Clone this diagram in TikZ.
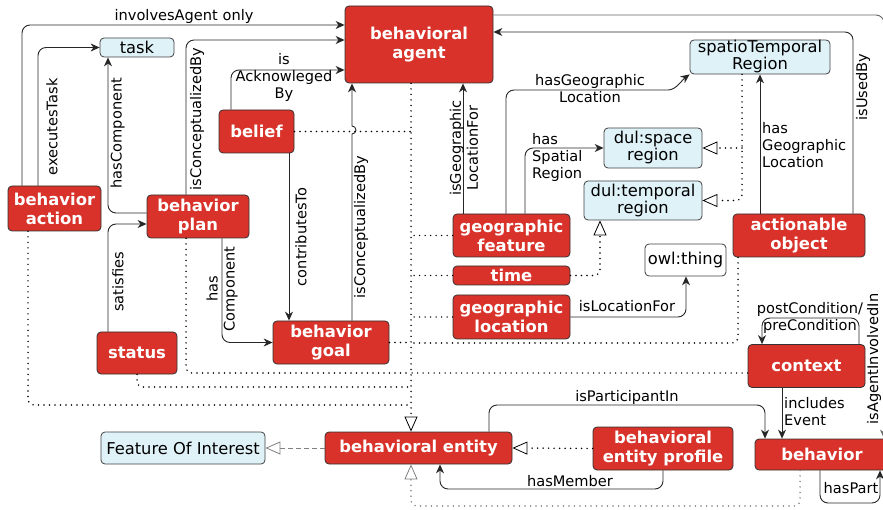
\documentclass[tikz,border=0pt]{standalone}
\usepackage{fontspec}
\setmainfont{DejaVu Sans}
\usepackage{tikz}
\usetikzlibrary{arrows.meta}
\definecolor{EntityRed}{HTML}{D8322A}
\definecolor{ConceptBlue}{HTML}{DFF2F8}
\tikzset{
  entitybox/.style={draw=black!80, line width=0.8pt, fill=EntityRed, text=white, rounded corners=4pt,
    inner sep=0pt, align=center, font=\bfseries\fontsize{16.4}{19}\selectfont},
  conceptbox/.style={draw=black!75, line width=0.8pt, fill=ConceptBlue, rounded corners=4pt,
    inner sep=0pt, align=center, font=\fontsize{16.3}{17}\selectfont},
  thingbox/.style={conceptbox, fill=white},
  lbl/.style={inner sep=1pt, align=center, font=\fontsize{14.6}{17}\selectfont},
  rel/.style={draw=black!85, line width=0.9pt, rounded corners=8pt, -{Stealth[length=9pt,width=8pt]}},
  isa/.style={draw=black, line width=1.7pt, dash pattern=on 0pt off 5.5pt, line cap=round, rounded corners=6pt,
    -{Triangle[length=15pt, width=13pt, line width=0.8pt, fill=white]}},
  isadots/.style={isa, -},
  foilink/.style={draw=gray, line width=0.9pt, dash pattern=on 5pt off 3pt,
    -{Triangle[length=15pt, width=13pt, line width=0.8pt, fill=white]}}
}
\begin{document}
\begin{tikzpicture}[x=1pt,y=-1pt]
  \useasboundingbox (0,0) rectangle (883,510);
  % classes
  \node[entitybox, minimum width=148, minimum height=77] (agent) at (419,44.5) {behavioral\\agent};
  \node[conceptbox, minimum width=74, minimum height=19] (task) at (137,47.5) {task};
  \node[entitybox, minimum width=75, minimum height=43] (belief) at (256.5,131.5) {belief};
  \node[entitybox, minimum width=93, minimum height=45] (action) at (54.5,208.5) {behavior\\action};
  \node[entitybox, minimum width=102, minimum height=43] (plan) at (198,216.5) {behavior\\plan};
  \node[entitybox, minimum width=80, minimum height=42] (status) at (137,353) {status};
  \node[entitybox, minimum width=116, minimum height=43] (goal) at (331,342.5) {behavior\\goal};
  \node[entitybox, minimum width=117, minimum height=43] (feature) at (511.5,235.5) {geographic\\feature};
  \node[entitybox, minimum width=117, minimum height=19] (time) at (511.5,275.5) {time};
  \node[entitybox, minimum width=117, minimum height=44] (location) at (511.5,317) {geographic\\location};
  \node[conceptbox, minimum width=140, minimum height=34] (spatio) at (760,57) {spatioTemporal\\Region};
  \node[conceptbox, minimum width=98, minimum height=40] (space) at (653,148) {dul:space\\region};
  \node[conceptbox, minimum width=118, minimum height=39] (temporal) at (643,200.5) {dul:temporal\\region};
  \node[thingbox, minimum width=81, minimum height=32] (thing) at (685.5,260) {owl:thing};
  \node[entitybox, minimum width=132, minimum height=43] (actionable) at (799,235.5) {actionable\\object};
  \node[entitybox, minimum width=117, minimum height=43] (context) at (806.5,366) {context};
  \node[entitybox, minimum width=134, minimum height=31] (behavior) at (822,454.5) {behavior};
  \node[entitybox, minimum width=140, minimum height=43] (profile) at (663,448.5) {behavioral\\entity profile};
  \node[entitybox, minimum width=187, minimum height=32] (entity) at (418.5,448) {behavioral entity};
  \node[conceptbox, minimum width=164, minimum height=32] (foi) at (183,448) {Feature Of Interest};

  % relations
  \draw[rel] (22,0 |- action.north) |- (agent.west |- 0,25);
  \draw[rel] (38,0 |- action.north) |- (task.west);
  \draw[rel] (plan.west |- 0,213) -| (108,0 |- task.south);
  \draw[rel] (186,0 |- plan.north) |- (agent.west |- 0,40);
  \draw[rel] (231,0 |- belief.north) |- (agent.west |- 0,70);
  \draw[rel] (289,0 |- belief.south) -- (289,0 |- goal.north);
  \draw[rel, sharp corners] (352,0 |- goal.north) -- (352,134) arc[start angle=90, end angle=-90, radius=4] -- (352,0 |- agent.south);
  \draw[rel] (222,0 |- plan.south) |- (goal.west);
  \draw[rel] (108,0 |- status.north) |- (plan.west |- 0,224);
  \draw[rel] (463,0 |- feature.north) -- (463,0 |- agent.south);
  \draw[rel] (506,0 |- feature.north) |- (660,90) .. controls (676,90) and (682,80) .. (spatio.south west);
  \draw[rel] (525,0 |- feature.north) |- (space.west);
  \draw[rel] (760,0 |- actionable.north) -- (760,0 |- spatio.south);
  \draw[rel] (853,0 |- actionable.north) |- (agent.east |- 0,32);
  \draw[rel, draw=black!60] (agent.east |- 0,15) -| (884,0 |- behavior.north);
  \draw[rel] (location.east) -| (686,0 |- thing.south);
  \draw[rel] (859,0 |- context.north) |- (762,318) -- (762,0 |- context.north);
  \draw[rel] (782,0 |- context.south) -- (782,0 |- behavior.north);
  \draw[rel] (489,0 |- entity.north) |- (765,405) -- (765,0 |- behavior.north);
  \draw[rel] (663,0 |- profile.south) |- (440,489) -- (440,0 |- entity.south);
  \draw[rel] (820,0 |- behavior.south) |- (880,503) -- (880,0 |- behavior.south);

  % subclass links
  \draw[isa] (411,0 |- agent.south) -- (411,0 |- entity.north);
  \draw[isadots] (belief.east) -- (411,0 |- belief.east);
  \draw[isadots] (feature.west) -- (411,0 |- feature.west);
  \draw[isadots] (time.west) -- (411,0 |- time.west);
  \draw[isadots] (location.west) -- (411,0 |- location.west);
  \draw[isadots] (goal.east) -- (411,0 |- goal.east);
  \draw[isadots] (738,0 |- actionable.south) |- (411,343);
  \draw[isadots] (context.west |- 0,373) -- (411,373);
  \draw[isadots] (186,0 |- plan.south) |- (411,373);
  \draw[isadots] (137,0 |- status.south) |- (411,387);
  \draw[isadots] (28,0 |- action.south) |- (411,405);
  \draw[isa, draw=gray] (800,0 |- behavior.south) |- (411,506) -- (411,0 |- entity.south);
  \draw[isa] (profile.west) -- (entity.east);
  \draw[isa] (742,0 |- spatio.south) |- (temporal.east);
  \draw[isa] (742,148) -- (space.east);
  \draw[isa] (time.east) -| (600,0 |- temporal.south);
  \draw[foilink] (entity.west) -- (foi.east);

  % labels
  \node[lbl] (lInvolves) at (184,16) {involvesAgent only};
  \node[lbl, rotate=90] (lExecutes) at (52,127) {executesTask};
  \node[lbl, rotate=90] (lHasComp) at (117.5,133) {hasComponent};
  \node[lbl, rotate=90] (lConcPlan) at (197,119) {isConceptualizedBy};
  \node[lbl] (lAckn) at (284,77) {is\\Acknowleged\\By};
  \node[lbl, rotate=90] (lContrib) at (301,237) {contributesTo};
  \node[lbl, rotate=90] (lConcGoal) at (361,227) {isConceptualizedBy};
  \node[lbl, rotate=90] (lPlanComp) at (222,289) {has\\Component};
  \node[lbl, rotate=90] (lSatisfies) at (118,282) {satisfies};
  \node[lbl, rotate=90] (lGeoFor) at (464,148) {isGeographic\\LocationFor};
  \node[lbl] (lHasGeo) at (590,89) {hasGeographic\\Location};
  \node[lbl, align=left, anchor=west] (lSpatial) at (531,157) {has\\Spatial\\Region};
  \node[lbl, align=left, anchor=west] (lObjGeo) at (761,145) {has\\Geographic\\Location};
  \node[lbl, rotate=90] (lUsedBy) at (863,87) {isUsedBy};
  \node[lbl, rotate=90] (lInvolved) at (874,359) {isAgentInvolvedIn};
  \node[lbl] (lLocFor) at (627,306) {isLocationFor};
  \node[lbl] (lCondition) at (810,318) {postCondition/\\preCondition};
  \node[lbl, align=left, anchor=west] (lIncludes) at (783,412) {includes\\Event};
  \node[lbl] (lParticipant) at (627,397) {isParticipantIn};
  \node[lbl] (lMember) at (570,481) {hasMember};
  \node[lbl] (lPart) at (851,488) {hasPart};
\end{tikzpicture}
\end{document}
